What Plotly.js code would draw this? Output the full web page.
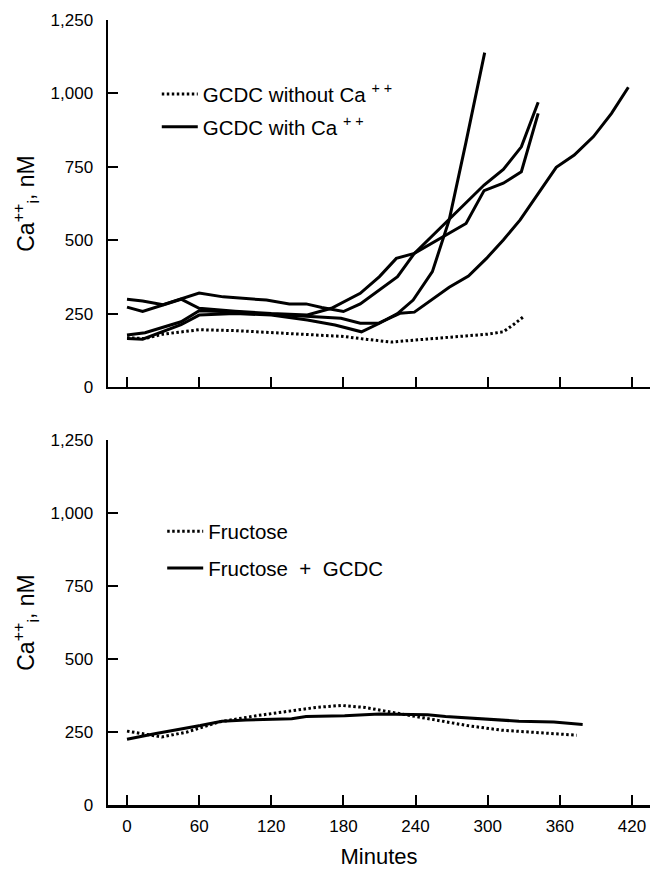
<!DOCTYPE html>
<html>
<head>
<meta charset="utf-8">
<script src="https://cdn.plot.ly/plotly-3.0.1.min.js"></script>
<style>html,body{margin:0;padding:0;background:#fff;}#chart{width:651px;height:869px;}</style>
</head>
<body>
<div id="chart"></div>
<script>
// ---- Data (minutes, Ca++i nM) ----
const xTicks = [0, 60, 120, 180, 240, 300, 360, 420];
const yTicks = [0, 250, 500, 750, 1000, 1250];

// Top panel
const noCaT = [0, 15, 30, 60, 90, 120, 150, 180, 200, 220, 240, 270, 300, 313, 321, 330];
const noCaV = [168, 165, 180, 195, 192, 186, 180, 172, 162, 153, 160, 170, 180, 188, 211, 240];

const withCa1T = [0, 13, 30, 45, 60, 80, 116, 135, 149, 162, 180, 194, 210, 225, 239, 282, 297, 313, 328, 342];
const withCa1V = [299, 293, 280, 299, 320, 307, 296, 283, 283, 271, 257, 283, 330, 376, 455, 626, 688, 741, 818, 970];

const withCa2T = [0, 13, 45, 60, 90, 120, 150, 170, 194, 210, 224, 239, 282, 297, 313, 328, 342];
const withCa2V = [272, 257, 299, 268, 258, 250, 245, 268, 319, 376, 438, 455, 557, 669, 694, 733, 932];

const withCa3T = [0, 13, 45, 60, 90, 120, 150, 173, 195, 210, 225, 238, 254, 260, 268, 282, 297.5];
const withCa3V = [165, 163, 212, 245, 250, 245, 228, 211, 188, 217, 250, 296, 393, 472, 569, 835, 1139];

const withCa4T = [0, 15, 45, 60, 90, 120, 153, 178, 194, 209, 227, 239, 268, 284, 299, 313, 327, 340, 357, 372, 388, 403, 417];
const withCa4V = [177, 185, 222, 260, 255, 248, 239, 234, 217, 217, 251, 255, 340, 378, 438, 501, 569, 648, 748, 790, 853, 932, 1021];

// Bottom panel
const fructT = [0, 15, 29, 50, 76, 108, 137, 157, 178, 198, 221, 236, 256, 283, 312, 341, 374];
const fructV = [253, 244, 233, 250, 284, 306, 323, 334, 341, 334, 317, 306, 291, 272, 256, 247, 239];

const fructGcdcT = [0, 23, 61, 79, 99, 137, 149, 181, 210, 250, 265, 297, 326, 355, 379];
const fructGcdcV = [225, 244, 272, 287, 291, 295, 303, 306, 312, 309, 303, 295, 287, 284, 276];

// ---- Styles ----
const FONT = 'Liberation Sans, Arial, Helvetica, sans-serif';
const solid = {color: '#000', width: 3};
const dotted = {color: '#000', width: 3, dash: '2.5px,2.5px'};

function tr(x, y, line, name, opts) {
  return Object.assign({type: 'scatter', mode: 'lines', x: x, y: y, line: line, name: name, hoverinfo: 'x+y'}, opts);
}

const data = [
  tr(noCaT, noCaV, dotted, 'GCDC without Ca <sup>+ +</sup>', {xaxis: 'x', yaxis: 'y', legend: 'legend', legendgroup: 'a'}),
  tr(withCa1T, withCa1V, solid, 'GCDC with Ca <sup>+ +</sup>', {xaxis: 'x', yaxis: 'y', legend: 'legend', legendgroup: 'b'}),
  tr(withCa2T, withCa2V, solid, 'GCDC with Ca <sup>+ +</sup>', {xaxis: 'x', yaxis: 'y', legend: 'legend', legendgroup: 'b', showlegend: false}),
  tr(withCa3T, withCa3V, solid, 'GCDC with Ca <sup>+ +</sup>', {xaxis: 'x', yaxis: 'y', legend: 'legend', legendgroup: 'b', showlegend: false}),
  tr(withCa4T, withCa4V, solid, 'GCDC with Ca <sup>+ +</sup>', {xaxis: 'x', yaxis: 'y', legend: 'legend', legendgroup: 'b', showlegend: false}),
  tr(fructT, fructV, dotted, 'Fructose', {xaxis: 'x2', yaxis: 'y2', legend: 'legend2', legendgroup: 'c'}),
  tr(fructGcdcT, fructGcdcV, solid, 'Fructose  +  GCDC', {xaxis: 'x2', yaxis: 'y2', legend: 'legend2', legendgroup: 'd'})
];

const xRange = [-15.8, 435];
function xAxis(anchor, labels) {
  const ax = {
    anchor: anchor, domain: [0, 1], range: xRange, tickmode: 'array', tickvals: xTicks,
    showticklabels: labels, ticks: 'inside', ticklen: 10, tickwidth: 2, tickcolor: '#000',
    showline: true, linewidth: 2.5, linecolor: '#000', showgrid: false, zeroline: false,
    tickfont: {family: FONT, size: 17, color: '#000'}, ticklabelstandoff: 4, fixedrange: true
  };
  if (labels) ax.title = {text: 'Minutes', font: {family: FONT, size: 22, color: '#000'}, standoff: 14};
  return ax;
}
function yAxis(anchor, domain) {
  return {
    anchor: anchor, domain: domain, range: [0, 1250], tickmode: 'array', tickvals: yTicks,
    tickformat: ',d', ticks: 'inside', ticklen: 10, tickwidth: 2, tickcolor: '#000',
    showline: true, linewidth: 2.5, linecolor: '#000', showgrid: false, zeroline: false,
    tickfont: {family: FONT, size: 17, color: '#000'}, ticklabelstandoff: 9, fixedrange: true,
    title: {text: 'Ca<sup>++</sup><sub>i</sub>, nM', font: {family: FONT, size: 23, color: '#000'}, standoff: 10}
  };
}

const legendBase = {
  bgcolor: 'rgba(0,0,0,0)', borderwidth: 0, font: {family: FONT, size: 20.5, color: '#000'},
  xanchor: 'left', yanchor: 'top', traceorder: 'grouped', itemwidth: 36
};

const layout = {
  width: 651, height: 869,
  margin: {l: 108, r: 1, t: 20, b: 64},
  paper_bgcolor: '#fff', plot_bgcolor: '#fff',
  font: {family: FONT, color: '#000'},
  xaxis: xAxis('y', false),
  yaxis: yAxis('x', [0.5325, 1]),
  xaxis2: xAxis('y2', true),
  yaxis2: yAxis('x2', [0, 0.465]),
  legend: Object.assign({}, legendBase, {x: 0.09, y: 0.931, tracegroupgap: 3}),
  legend2: Object.assign({}, legendBase, {x: 0.10, y: 0.374, tracegroupgap: 7}),
  showlegend: true
};

Plotly.newPlot('chart', data, layout, {staticPlot: true, displayModeBar: false});
</script>
</body>
</html>
